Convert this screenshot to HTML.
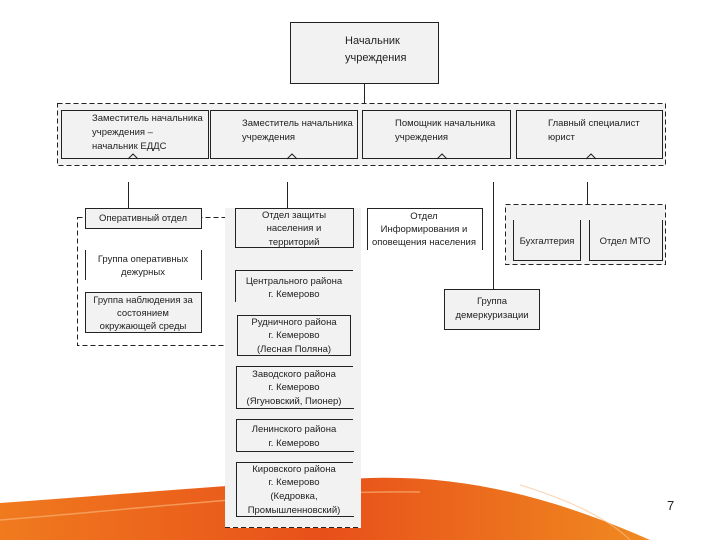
<!DOCTYPE html>
<html><head><meta charset="utf-8"><style>
body{margin:0;width:720px;height:540px;overflow:hidden;background:#fff;}
svg text{font-family:"Liberation Sans",sans-serif;font-size:9.5px;fill:#222;}
</style></head><body>
<svg width="720" height="540" viewBox="0 0 720 540" xmlns="http://www.w3.org/2000/svg">
<defs><linearGradient id="g" x1="0" x2="1" y1="0" y2="0">
<stop offset="0" stop-color="#f07a1e"/><stop offset="0.5" stop-color="#e8501a"/><stop offset="1" stop-color="#f08a20"/></linearGradient></defs>
<path d="M0,503 C120,495 250,482 370,478 C470,475 560,500 650,540 L0,540 Z" fill="url(#g)"/>
<path d="M0,520 C150,508 300,490 420,492" stroke="#f8b070" stroke-width="1.5" fill="none" opacity="0.7"/>
<path d="M520,485 C570,500 610,520 630,540" stroke="#f8c090" stroke-width="1" fill="none" opacity="0.7"/>
<text x="667" y="510" style="font-size:13px">7</text>
<g stroke="#222" stroke-width="1" fill="none">
<rect x="290.5" y="22.5" width="148" height="61" fill="#f2f2f2"/>
<line x1="364.5" y1="83" x2="364.5" y2="103"/>
<rect x="57.5" y="103.5" width="608" height="62" fill="#f2f2f2" stroke-dasharray="5,3"/>
<rect x="61.5" y="110.5" width="147" height="48" fill="#f2f2f2"/>
<rect x="210.5" y="110.5" width="147" height="48" fill="#f2f2f2"/>
<rect x="362.5" y="110.5" width="148" height="48" fill="#f2f2f2"/>
<rect x="516.5" y="110.5" width="146" height="48" fill="#f2f2f2"/>
<path d="M128,159 l5,-5 5,5 M287,159 l5,-5 5,5 M437,159 l5,-5 5,5 M586,159 l5,-5 5,5"/>
<line x1="128.5" y1="182" x2="128.5" y2="208"/>
<line x1="287.5" y1="182" x2="287.5" y2="208"/>
<line x1="493.5" y1="182" x2="493.5" y2="289"/>
<line x1="587.5" y1="182" x2="587.5" y2="214"/>
<path d="M562.5,227 V214.5 H613.5 V227"/>
<rect x="77.5" y="217.5" width="161" height="128" stroke-dasharray="5,3"/>
<rect x="225" y="208" width="136" height="320" fill="#f2f2f2" stroke="none"/>
<line x1="225" y1="527.5" x2="361" y2="527.5" stroke-dasharray="5,3"/>
<rect x="85.5" y="208.5" width="116" height="20" fill="#f2f2f2"/>
<path d="M85.5,250 V280 M201.5,250 V280"/>
<rect x="85.5" y="292.5" width="116" height="40" fill="#f2f2f2"/>
<rect x="235.5" y="208.5" width="118" height="39" fill="#f2f2f2"/>
<path d="M235.5,302 V270.5 H353"/>
<rect x="237.5" y="315.5" width="113" height="40" fill="#f2f2f2"/>
<path d="M353,366.5 H236.5 V408.5 H354"/>
<path d="M353,419.5 H236.5 V451.5 H354"/>
<path d="M353,462.5 H236.5 V516.5 H354"/>
<path d="M367.5,250 V208.5 H482.5 V250"/>
<rect x="444.5" y="289.5" width="95" height="40" fill="#f2f2f2"/>
<rect x="505.5" y="204.5" width="160" height="60" fill="#f2f2f2" stroke-dasharray="5,3"/>
<path d="M513.5,220 V260.5 H580.5 V220"/>
<path d="M589.5,220 V260.5 H662.5 V220"/>
</g>
<text x="345" y="44" style="font-size:11px">Начальник</text>
<text x="345" y="61" style="font-size:11px">учреждения</text>
<text x="92" y="121">Заместитель начальника</text>
<text x="92" y="135">учреждения –</text>
<text x="92" y="149">начальник ЕДДС</text>
<text x="242" y="126">Заместитель начальника</text>
<text x="242" y="140">учреждения</text>
<text x="395" y="126">Помощник начальника</text>
<text x="395" y="140">учреждения</text>
<text x="548" y="126">Главный специалист</text>
<text x="548" y="140">юрист</text>
<g text-anchor="middle">
<text x="143" y="221">Оперативный отдел</text>
<text x="143" y="262">Группа оперативных</text>
<text x="143" y="275">дежурных</text>
<text x="143" y="303">Группа наблюдения за</text>
<text x="143" y="316">состоянием</text>
<text x="143" y="329">окружающей среды</text>
<text x="294" y="218">Отдел защиты</text>
<text x="294" y="231">населения и</text>
<text x="294" y="245">территорий</text>
<text x="294" y="284">Центрального района</text>
<text x="294" y="297">г. Кемерово</text>
<text x="294" y="325">Рудничного района</text>
<text x="294" y="338">г. Кемерово</text>
<text x="294" y="352">(Лесная Поляна)</text>
<text x="294" y="377">Заводского района</text>
<text x="294" y="390">г. Кемерово</text>
<text x="294" y="404">(Ягуновский, Пионер)</text>
<text x="294" y="432">Ленинского района</text>
<text x="294" y="446">г. Кемерово</text>
<text x="294" y="472">Кировского района</text>
<text x="294" y="485">г. Кемерово</text>
<text x="294" y="499">(Кедровка,</text>
<text x="294" y="513">Промышленновский)</text>
<text x="424" y="219">Отдел</text>
<text x="424" y="232">Информирования и</text>
<text x="424" y="245">оповещения населения</text>
<text x="492" y="304">Группа</text>
<text x="492" y="318">демеркуризации</text>
<text x="547" y="244">Бухгалтерия</text>
<text x="625" y="244">Отдел МТО</text>
</g>
</svg>
</body></html>
